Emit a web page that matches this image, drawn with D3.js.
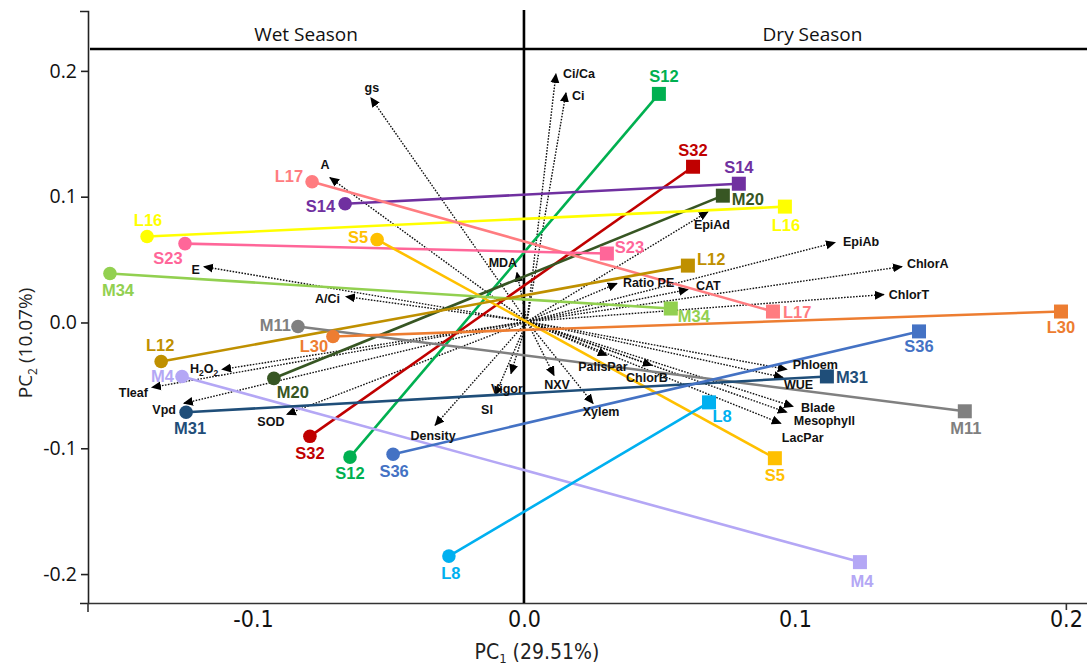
<!DOCTYPE html>
<html>
<head>
<meta charset="utf-8">
<script src="https://cdn.jsdelivr.net/npm/d3@7"></script>
<style>
  html, body { margin: 0; padding: 0; background: #fff; }
  svg { display: block; }
  .tick text { fill: #111; }
</style>
</head>
<body>
<svg id="chart" width="1087" height="668"></svg>
<script>
// Genotypes, their PCA scores in each season, and colours
const genotypes = ["S12","S32","S14","M20","L16","L17","S23","S5","M34","L12","M11","L30","M4","M31","S36","L8"];
const wetPC1 = [-0.0642,-0.0790,-0.0660,-0.0923,-0.1391,-0.0782,-0.1251,-0.0542,-0.1528,-0.1339,-0.0834,-0.0705,-0.1262,-0.1247,-0.0483,-0.0277];
const wetPC2 = [-0.1070,-0.0905, 0.0944,-0.0444, 0.0683, 0.1119, 0.0627, 0.0659, 0.0389,-0.0310,-0.0032,-0.0111,-0.0429,-0.0714,-0.1048,-0.1857];
const dryPC1 = [ 0.0498, 0.0624, 0.0793, 0.0734, 0.0963, 0.0919, 0.0306, 0.0926, 0.0542, 0.0605, 0.1627, 0.1982, 0.1240, 0.1118, 0.1458, 0.0683];
const dryPC2 = [ 0.1817, 0.1238, 0.1103, 0.1008, 0.0921, 0.0087, 0.0548,-0.1079, 0.0111, 0.0452,-0.0706, 0.0087,-0.1905,-0.0429,-0.0071,-0.0635];
const colors = ["#00b050","#c00000","#7030a0","#375623","#ffff00","#ff7c80","#ff6699","#ffc000","#92d050","#bf9000","#808080","#ed7d31","#b4a7f5","#1f4e79","#4472c4","#00b0f0"];

// Variable loadings (arrow tips)
const variables = ["gs","Ci/Ca","Ci","A","E","MDA","A/Ci","EpiAd","EpiAb","ChlorA","ChlorT","Ratio PE","CAT","H2O2","Tleaf","Vpd","SOD","Density","SI","Vigor","NXV","Xylem","PalisPar","ChlorB","Phloem","WUE","Blade","Mesophyll","LacPar"];
const loadPC1 = [-0.0565, 0.0118, 0.0155,-0.0716,-0.1181,-0.0026,-0.0657, 0.0679, 0.1148, 0.1395, 0.1328, 0.0343, 0.0605,-0.1114,-0.1373,-0.1255,-0.0875,-0.0328,-0.0107,-0.0048, 0.0111, 0.0255, 0.0306, 0.0472, 0.0970, 0.0956, 0.0993, 0.0970, 0.0948];
const loadPC2 = [ 0.1786, 0.1976, 0.1825, 0.1151, 0.0444, 0.0397, 0.0206, 0.0881, 0.0635, 0.0444, 0.0222, 0.0310, 0.0262,-0.0373,-0.0516,-0.0643,-0.0730,-0.0817,-0.0580,-0.0405,-0.0421,-0.0643,-0.0262,-0.0341,-0.0373,-0.0437,-0.0667,-0.0714,-0.0802];

// Axis ticks and titles
const xTicks = [-0.1, 0.0, 0.1, 0.2];
const yTicks = [-0.2, -0.1, 0.0, 0.1, 0.2];
const seasons = ["Wet Season", "Dry Season"];

// Label placement: [dx, dy, anchor] relative to each mark
const wetLabelPos = {
  S12:[0,16,"middle"], S32:[0,17,"middle"], S14:[-10,3,"end"], M20:[19,14,"middle"],
  L16:[1,-16,"middle"], L17:[-9,-5,"end"], S23:[-17,15,"middle"], S5:[-9,-2,"end"],
  M34:[8,17,"middle"], L12:[-1,-16,"middle"], M11:[-7,-1,"end"], L30:[-19,10,"middle"],
  M4:[-8,0,"end"], M31:[4,16,"middle"], S36:[1,17,"middle"], L8:[2,17,"middle"]
};
const dryLabelPos = {
  S12:[5,-18,"middle"], S32:[0,-17,"middle"], S14:[0,-16,"middle"], M20:[9,4,"start"],
  L16:[1,19,"middle"], L17:[10,1,"start"], S23:[8,-6,"start"], S5:[0,17,"middle"],
  M34:[7,8,"start"], L12:[9,-6,"start"], M11:[1,17,"middle"], L30:[0,16,"middle"],
  M4:[2,19,"middle"], M31:[9,1,"start"], S36:[0,15,"middle"], L8:[13,14,"middle"]
};
const varLabelPos = {
  "gs":[1,-10,"middle"], "Ci/Ca":[7,0,"start"], "Ci":[6,3,"start"], "A":[-5,-13,"middle"],
  "E":[-4,3,"end"], "MDA":[-14,-10,"middle"], "A/Ci":[-6,2,"end"], "EpiAd":[4,13,"middle"],
  "EpiAb":[8,-1,"start"], "ChlorA":[5,-3,"start"], "ChlorT":[5,0,"start"], "Ratio PE":[6,-1,"start"],
  "CAT":[8,-4,"start"], "H2O2":[-4,-1,"end"], "Tleaf":[-4,5,"end"], "Vpd":[-8,6,"end"],
  "SOD":[-16,7,"middle"], "Density":[-2,10,"middle"], "SI":[-8,14,"middle"], "Vigor":[-4,15,"middle"],
  "NXV":[3,9,"middle"], "Xylem":[8,8,"middle"], "PalisPar":[-4,11,"middle"], "ChlorB":[-5,12,"middle"],
  "Phloem":[6,-5,"start"], "WUE":[1,7,"start"], "Blade":[8,1,"start"], "Mesophyll":[7,8,"start"],
  "LacPar":[1,14,"start"]
};

const svg = d3.select("#chart");
const W = 1087;

const x = d3.scaleLinear().domain([-0.1609, 0.2078]).range([88, 1087]);
const y = d3.scaleLinear().domain([-0.2230, 0.2476]).range([603, 11]);

// Tick format with a plain hyphen for negatives
const fmt = d => d3.format(".1f")(d).replace("\u2212", "-");

const narrowFont = "'Liberation Sans Narrow','DejaVu Sans Condensed','Liberation Sans',sans-serif";
const bodyFont = "'Open Sans','Noto Sans',sans-serif";
const markFont = "'Liberation Sans',Arial,sans-serif";

// Arrowhead definition
svg.append("defs").append("marker")
  .attr("id", "arrowhead")
  .attr("viewBox", "0 0 10 10")
  .attr("refX", 9).attr("refY", 5)
  .attr("markerUnits", "userSpaceOnUse")
  .attr("markerWidth", 10).attr("markerHeight", 10)
  .attr("orient", "auto")
  .append("path").attr("d", "M0,0.5 L10,5 L0,9.5 Z").attr("fill", "#000");

// Y axis
const yAxis = svg.append("g")
  .attr("transform", `translate(${x.range()[0]},0)`)
  .call(d3.axisLeft(y).tickValues(yTicks).tickFormat(fmt).tickSizeInner(7).tickSizeOuter(8));
yAxis.select(".domain").attr("stroke", "#222").attr("stroke-width", 1.6);
yAxis.selectAll(".tick line").attr("stroke", "#222").attr("stroke-width", 1.6);
yAxis.selectAll(".tick text")
  .attr("x", -11).attr("font-family", bodyFont).attr("font-size", 19.5).attr("fill", "#111");

// X axis (labels only; end ticks drawn separately)
const xAxis = svg.append("g")
  .attr("transform", `translate(0,${y.range()[0]})`)
  .call(d3.axisBottom(x).tickValues(xTicks).tickFormat(fmt).tickSizeInner(0).tickSizeOuter(0));
xAxis.select(".domain").attr("stroke", "#333").attr("stroke-width", 1.6);
xAxis.selectAll(".tick text")
  .attr("y", 8).attr("dy", "0.71em")
  .attr("font-family", narrowFont).attr("font-size", 23).attr("fill", "#111");
xAxis.selectAll(".tick").filter(d => d === 0.2)
  .append("line").attr("y1", 0).attr("y2", 7).attr("stroke", "#333").attr("stroke-width", 1.6);
xAxis.append("line").attr("x1", x.range()[0]).attr("x2", x.range()[0])
  .attr("y1", 0).attr("y2", 9).attr("stroke", "#333").attr("stroke-width", 1.6);

// Axis titles
svg.append("text")
  .attr("x", 537).attr("y", 659)
  .attr("text-anchor", "middle")
  .attr("font-family", narrowFont).attr("font-size", 21).attr("fill", "#222")
  .html('PC<tspan font-size="13" dy="4">1</tspan><tspan dy="-4"> (29.51%)</tspan>');
svg.append("text")
  .attr("transform", "translate(32,343) rotate(-90)")
  .attr("text-anchor", "middle")
  .attr("font-family", bodyFont).attr("font-size", 19).attr("fill", "#222")
  .html('PC<tspan font-size="12" dy="5">2</tspan><tspan dy="-5"> (10.07%)</tspan>');

// Season header
svg.append("line")
  .attr("x1", 90).attr("x2", W).attr("y1", 49).attr("y2", 49)
  .attr("stroke", "#000").attr("stroke-width", 2.6);
svg.selectAll(".season").data(seasons).join("text")
  .attr("class", "season")
  .attr("x", (d, i) => i === 0 ? (x.range()[0] + x(0)) / 2 : (x(0) + W) / 2 + 7)
  .attr("y", 41)
  .attr("text-anchor", "middle")
  .attr("font-family", bodyFont).attr("font-size", 19).attr("fill", "#111")
  .text(d => d);

// Zero line dividing the seasons
svg.append("line")
  .attr("x1", x(0)).attr("x2", x(0)).attr("y1", 10).attr("y2", y.range()[0])
  .attr("stroke", "#000").attr("stroke-width", 2.6);

// Loading vectors
const vecData = variables.map((v, i) => ({ name: v, pc1: loadPC1[i], pc2: loadPC2[i] }));
svg.append("g").selectAll("line").data(vecData).join("line")
  .attr("x1", x(0) + 3).attr("y1", y(0) - 1)
  .attr("x2", d => x(d.pc1)).attr("y2", d => y(d.pc2))
  .attr("stroke", "#111").attr("stroke-width", 1.4)
  .attr("stroke-dasharray", "1.6,1.4")
  .attr("marker-end", "url(#arrowhead)");

// Genotype trajectories from wet to dry season
const gData = genotypes.map((g, i) => ({
  name: g, color: colors[i],
  wx: wetPC1[i], wy: wetPC2[i], dx: dryPC1[i], dy: dryPC2[i]
}));
svg.append("g").selectAll("line").data(gData).join("line")
  .attr("x1", d => x(d.wx)).attr("y1", d => y(d.wy))
  .attr("x2", d => x(d.dx)).attr("y2", d => y(d.dy))
  .attr("stroke", d => d.color).attr("stroke-width", 2.6);

// Wet season points (circles)
svg.append("g").selectAll("circle").data(gData).join("circle")
  .attr("cx", d => x(d.wx)).attr("cy", d => y(d.wy)).attr("r", 6.8)
  .attr("fill", d => d.color);

// Dry season points (squares)
const sq = 14;
svg.append("g").selectAll("rect").data(gData).join("rect")
  .attr("x", d => x(d.dx) - sq / 2).attr("y", d => y(d.dy) - sq / 2)
  .attr("width", sq).attr("height", sq)
  .attr("fill", d => d.color);

// Variable labels
const vl = svg.append("g").selectAll("text").data(vecData).join("text")
  .attr("x", d => x(d.pc1) + varLabelPos[d.name][0])
  .attr("y", d => y(d.pc2) + varLabelPos[d.name][1])
  .attr("dy", "0.35em")
  .attr("text-anchor", d => varLabelPos[d.name][2])
  .attr("font-family", markFont).attr("font-weight", "bold").attr("font-size", 12.5)
  .attr("fill", "#111");
vl.each(function(d) {
  const t = d3.select(this);
  if (d.name === "H2O2") {
    t.append("tspan").text("H");
    t.append("tspan").attr("font-size", 8.5).attr("dy", 3).text("2");
    t.append("tspan").attr("dy", -3).text("O");
    t.append("tspan").attr("font-size", 8.5).attr("dy", 3).text("2");
  } else {
    t.text(d.name);
  }
});

// Genotype labels
function genoLabels(pos, px, py) {
  svg.append("g").selectAll("text").data(gData).join("text")
    .attr("x", d => x(d[px]) + pos[d.name][0])
    .attr("y", d => y(d[py]) + pos[d.name][1])
    .attr("dy", "0.35em")
    .attr("text-anchor", d => pos[d.name][2])
    .attr("font-family", markFont).attr("font-weight", "bold").attr("font-size", 16.5)
    .attr("fill", d => d.color)
    .text(d => d.name);
}
genoLabels(wetLabelPos, "wx", "wy");
genoLabels(dryLabelPos, "dx", "dy");
</script>
</body>
</html>
